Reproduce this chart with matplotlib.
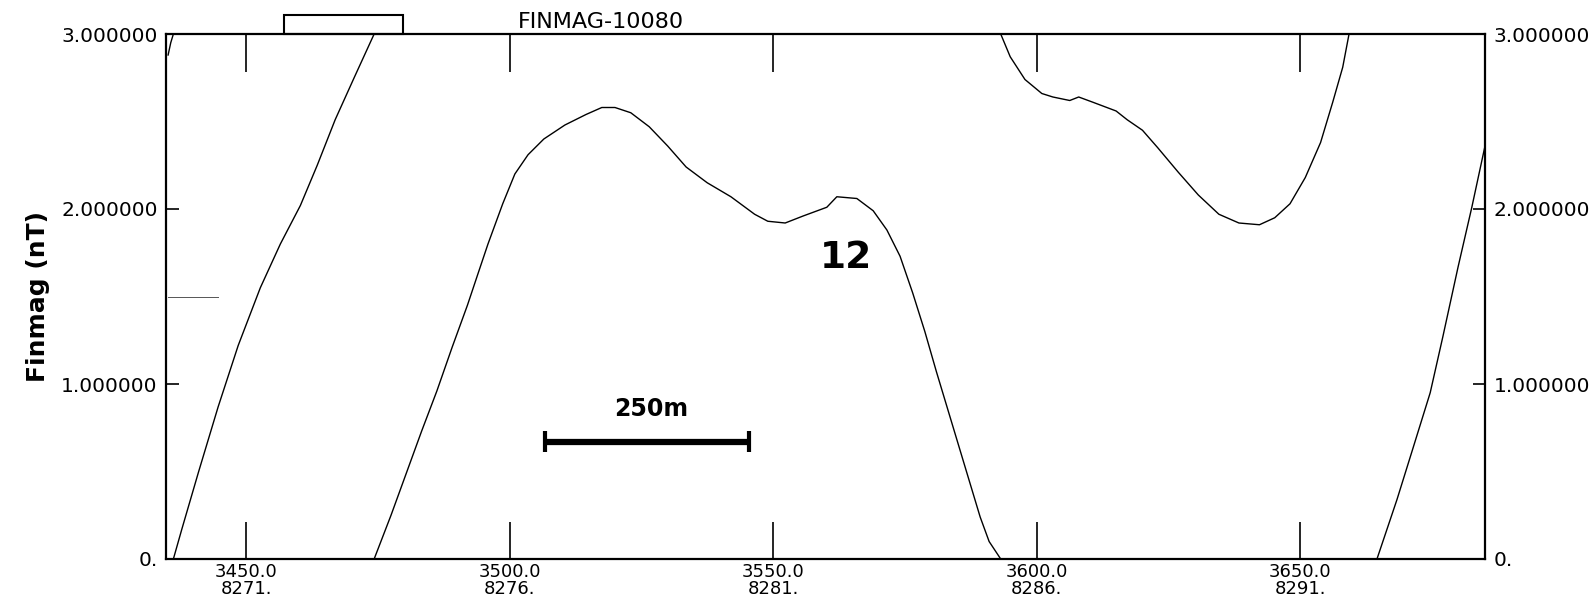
import numpy as np
import matplotlib
matplotlib.use("Agg")
import matplotlib.pyplot as plt
from matplotlib.patches import Rectangle
import matplotlib.transforms as mtransforms

# ---- data (profile, displayed values wrap between 0 and 3) ----
prof_x = [3435.2, 3435.7, 3436.2,
          3436.2, 3437.8, 3441.0, 3444.7, 3448.5, 3452.7, 3456.5, 3460.3, 3463.5, 3466.9, 3470.5, 3474.3,
          3474.3, 3477.5, 3480.4, 3483.3, 3486.2, 3489.1, 3492.0, 3494.0, 3495.9, 3498.7, 3501.0, 3503.5,
          3506.5, 3510.5, 3514.5, 3517.5, 3520.0, 3523.0, 3526.5, 3530.0, 3533.5, 3537.5, 3542.0, 3546.5,
          3549.0, 3552.3, 3555.7, 3560.2, 3562.1, 3565.9, 3569.0, 3571.6, 3574.1, 3576.5, 3578.8, 3581.0,
          3583.5, 3586.4, 3589.3, 3591.0, 3593.2,
          3593.2, 3595.0, 3597.8, 3601.0, 3603.1, 3606.3, 3608.0, 3610.7, 3615.1, 3617.2, 3620.1, 3623.0,
          3626.9, 3630.7, 3634.6, 3638.4, 3642.3, 3645.2, 3648.1, 3651.0, 3653.9, 3656.2, 3658.1, 3659.3,
          3664.6, 3668.4, 3671.4, 3674.7, 3677.1, 3680.0, 3682.6, 3685.1]
prof_y = [2.88, 2.95, 3.00,
          0.00, 0.17, 0.50, 0.87, 1.22, 1.55, 1.80, 2.02, 2.25, 2.51, 2.75, 3.00,
          0.00, 0.25, 0.49, 0.73, 0.96, 1.21, 1.45, 1.63, 1.80, 2.03, 2.20, 2.31,
          2.40, 2.48, 2.54, 2.58, 2.58, 2.55, 2.47, 2.36, 2.24, 2.15, 2.07, 1.97,
          1.93, 1.92, 1.96, 2.01, 2.07, 2.06, 1.99, 1.88, 1.73, 1.52, 1.30, 1.07,
          0.82, 0.53, 0.24, 0.10, 0.00,
          3.00, 2.87, 2.74, 2.66, 2.64, 2.62, 2.64, 2.61, 2.56, 2.51, 2.45, 2.35,
          2.21, 2.08, 1.97, 1.92, 1.91, 1.95, 2.03, 2.18, 2.38, 2.61, 2.81, 3.00,
          0.00, 0.34, 0.63, 0.95, 1.27, 1.67, 2.01, 2.36]

xtick_vals = [3450, 3500, 3550, 3600, 3650]
xtick_main = ['3450.0', '3500.0', '3550.0', '3600.0', '3650.0']
xtick_fid = ['8271.', '8276.', '8281.', '8286.', '8291.']
ytick_vals = [0, 1, 2, 3]
ytick_labels = ['0.', '1.000000', '2.000000', '3.000000']

title_text = 'FINMAG-10080'
ylabel_text = 'Finmag (nT)'
line_label = '12'
scale_label = '250m'
scale_bar_x = [3506.7, 3545.4]
scale_bar_y = 0.67
section_box_x = [3457.2, 3479.8]

# ---- figure ----
fig = plt.figure(figsize=(15.93, 6.16), dpi=100)
ax = fig.add_axes([166/1593, 1 - 559/616, (1485-166)/1593, (559-34)/616])

xs = np.array(prof_x, dtype=float)
ys = np.array(prof_y, dtype=float)
# break the line wherever the displayed value wraps between 3 and 0
jumps = np.where(np.abs(np.diff(ys)) > 1.5)[0] + 1
xs_p = np.insert(xs, jumps, np.nan)
ys_p = np.insert(ys, jumps, np.nan)
ax.plot(xs_p, ys_p, color='black', lw=1.0)

ax.set_xlim(3434.8, 3685.1)
ax.set_ylim(0, 3)

ax.set_xticks(xtick_vals)
ax.set_xticklabels([f'{a}\n{b}' for a, b in zip(xtick_main, xtick_fid)],
                   fontsize=13, linespacing=0.95)
ax.set_yticks(ytick_vals)
ax.set_yticklabels(ytick_labels, fontsize=14.5)
ax.tick_params(axis='x', direction='in', length=27, width=1.2, top=True, pad=3)
ax.tick_params(axis='y', direction='in', length=9, width=1.2, right=True,
               labelright=True, pad=6)
for s in ax.spines.values():
    s.set_linewidth(1.6)

ax.set_ylabel(ylabel_text, fontsize=18, fontweight='bold', labelpad=8)

# thin marker at 1.5 on left
ax.plot([3435.2, 3444.7], [1.5, 1.5], color='#555555', lw=0.7)

# title text above axes
ax.text(0.267, 1.004, title_text, transform=ax.transAxes, fontsize=16,
        ha='left', va='bottom')

# section box above axes
trans = mtransforms.blended_transform_factory(ax.transData, ax.transAxes)
rect = Rectangle((section_box_x[0], 1.0), section_box_x[1] - section_box_x[0], 19/525,
                 transform=trans, fill=False, lw=1.5, ec='black', clip_on=False)
ax.add_patch(rect)

# line number
ax.text(3563.8, 1.72, line_label, fontsize=27, fontweight='bold', ha='center', va='center')

# scale bar
ax.plot(scale_bar_x, [scale_bar_y, scale_bar_y], color='black', lw=4.5, solid_capstyle='butt')
for xb in scale_bar_x:
    ax.plot([xb, xb], [scale_bar_y - 0.06, scale_bar_y + 0.06], color='black', lw=3,
            solid_capstyle='butt')
ax.text(np.mean(scale_bar_x) + 0.8, 0.86, scale_label, fontsize=17, fontweight='bold',
        ha='center', va='center')

fig.savefig('out.png', dpi=100)
